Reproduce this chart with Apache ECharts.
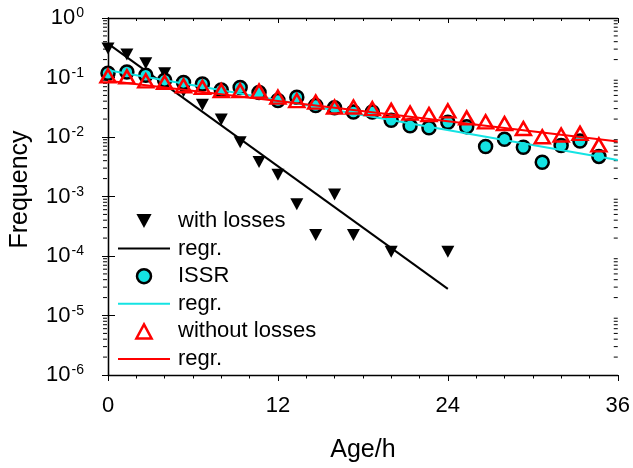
<!DOCTYPE html>
<html><head><meta charset="utf-8">
<script src="https://cdn.jsdelivr.net/npm/echarts@6/dist/echarts.min.js"></script>
<style>html,body{margin:0;padding:0;background:#fff}#c{width:633px;height:468px}</style>
</head><body><div id="c"></div>
<script>
// Age (h) of each sample, every 80 min
const ages = [0, 1.333, 2.667, 4, 5.333, 6.667, 8, 9.333, 10.667, 12, 13.333, 14.667, 16, 17.333,
  18.667, 20, 21.333, 22.667, 24, 25.333, 26.667, 28, 29.333, 30.667, 32, 33.333, 34.667];
// Frequency, "with losses" (null = no point)
const withLosses = [0.306, 0.244, 0.173, 0.118, 0.059, 0.0348, 0.0196, 0.00815, 0.0038, 0.00232,
  0.00074, 0.000226, 0.00108, 0.000226, null, 0.000118, null, null, 0.000118];
// Frequency, ISSR
const issr = [0.118, 0.124, 0.109, 0.0903, 0.0827, 0.0775, 0.0617, 0.0678, 0.0561, 0.041, 0.0467,
  0.0339, 0.031, 0.0263, 0.0263, 0.0191, 0.0154, 0.0143, 0.0177, 0.0149, 0.00692, 0.00914,
  0.00674, 0.00376, 0.0072, 0.00857, 0.00472];
// Frequency, "without losses"
const withoutLosses = [0.1064, 0.1024, 0.0879, 0.0827, 0.0727, 0.0684, 0.060, 0.060, 0.059, 0.0467,
  0.041, 0.0386, 0.0319, 0.0319, 0.0299, 0.028, 0.0253, 0.0238, 0.0274, 0.0209, 0.018, 0.0168,
  0.0139, 0.0101, 0.0108, 0.0115, 0.00736];
// Regression lines (end points)
const regrLossT = [0, 24];   const regrLossF = [0.371, 2.8e-5];
const regrIssrT = [0, 36];   const regrIssrF = [0.132, 0.0041];
const regrNoLossT = [0, 36]; const regrNoLossF = [0.0883, 0.00838];
// Axis ticks
const xLabels = [0, 12, 24, 36];
const yDecades = [-6, -5, -4, -3, -2, -1, 0];
const minorMultipliers = [2, 3, 4, 5, 6, 7, 8, 9];

const FONT = 'Liberation Sans';
const CYAN = '#14e3e3';
const pairs = (xs, ys) => xs.map((x, i) => [x, ys[i]]).filter(p => p[1] != null);
const minorVals = [];
yDecades.slice(0, -1).forEach(e => minorMultipliers.forEach(m => minorVals.push([0, m * Math.pow(10, e)])));

const lineIcon = 'path://M0,0L52,0L52,2L0,2Z';
const chart = echarts.init(document.getElementById('c'), null, {renderer: 'canvas'});
chart.setOption({
  animation: false,
  textStyle: {fontFamily: FONT},
  grid: {left: 106, right: 14.5, top: 18, bottom: 88, containLabel: false},
  legend: {
    orient: 'vertical', left: 113, top: 205, itemWidth: 52, itemHeight: 14, itemGap: 5.6,
    selectedMode: false, symbolKeepAspect: true,
    data: [
      {name: 'with losses', icon: 'path://M0,0L13,0L6.5,12Z', itemStyle: {color: '#000', opacity: 1}},
      {name: 'regr.1', icon: lineIcon, itemStyle: {color: '#000'}},
      {name: 'ISSR', icon: 'circle', itemStyle: {color: CYAN, borderColor: '#000', borderWidth: 2.5, opacity: 1}},
      {name: 'regr.2', icon: lineIcon, itemStyle: {color: CYAN}},
      {name: 'without losses', icon: 'path://M6.5,0L13,12L0,12Z',
       itemStyle: {color: 'rgba(0,0,0,0)', borderColor: '#ff0000', borderWidth: 2.5, opacity: 1}},
      {name: 'regr.3', icon: lineIcon, itemStyle: {color: '#ff0000'}}
    ],
    formatter: n => n.indexOf('regr.') === 0 ? 'regr.' : n,
    textStyle: {fontFamily: FONT, fontSize: 22, color: '#000', lineHeight: 22, padding: [0, 0, 0, 3]}
  },
  xAxis: [{
    type: 'value', min: 0, max: 36, interval: 12, position: 'bottom',
    name: 'Age/h', nameLocation: 'middle', nameGap: 63,
    nameTextStyle: {fontFamily: FONT, fontSize: 25, color: '#000'},
    axisLine: {lineStyle: {color: '#000', width: 1.3}},
    axisTick: {inside: false, length: 6, lineStyle: {color: '#000'}},
    minorTick: {show: true, splitNumber: 6, length: 3.5, lineStyle: {color: '#000'}},
    splitLine: {show: false},
    axisLabel: {fontFamily: FONT, fontSize: 22, color: '#000', margin: 20,
      formatter: v => xLabels.indexOf(v) >= 0 ? String(v) : ''}
  }, {
    type: 'value', min: 0, max: 36, interval: 12, position: 'top',
    axisLine: {lineStyle: {color: '#000', width: 1.3}},
    axisTick: {inside: true, length: 5, lineStyle: {color: '#000'}},
    minorTick: {show: true, splitNumber: 6, length: 3, lineStyle: {color: '#000'}},
    splitLine: {show: false}, axisLabel: {show: false}
  }],
  yAxis: [{
    type: 'log', logBase: 10, min: 1e-6, max: 1, position: 'left', offset: 5,
    name: 'Frequency', nameLocation: 'middle', nameGap: 70,
    nameTextStyle: {fontFamily: FONT, fontSize: 25, color: '#000', padding: [0, 0, 0, 14]},
    axisLine: {show: true, lineStyle: {color: '#000', width: 1.3}},
    axisTick: {show: true, inside: true, length: 7, lineStyle: {color: '#000'}},
    splitLine: {show: false},
    axisLabel: {margin: 19, color: '#000',
      formatter: v => '{b|10}{s|' + Math.round(Math.log10(v)) + '}',
      rich: {b: {fontFamily: FONT, fontSize: 22, color: '#000'},
             s: {fontFamily: FONT, fontSize: 14, color: '#000', padding: [0, 0, 9, 1]}}}
  }, {
    type: 'log', logBase: 10, min: 1e-6, max: 1, position: 'right',
    axisLine: {show: true, lineStyle: {color: '#000', width: 1.3}},
    axisTick: {show: true, inside: true, length: 6, lineStyle: {color: '#000'}},
    splitLine: {show: false}, axisLabel: {show: false}
  }],
  series: [
    {name: 'with losses', type: 'scatter', data: pairs(ages, withLosses),
     symbol: 'triangle', symbolRotate: 180, symbolSize: [13, 12],
     itemStyle: {color: '#000', opacity: 1}, z: 2},
    {name: 'regr.1', type: 'line', data: pairs(regrLossT, regrLossF), symbol: 'none',
     lineStyle: {color: '#000', width: 2}, itemStyle: {color: '#000'}, z: 3},
    {name: 'ISSR', type: 'scatter', data: pairs(ages, issr), symbol: 'circle', symbolSize: 13,
     itemStyle: {color: CYAN, borderColor: '#000', borderWidth: 2.5, opacity: 1}, z: 4},
    {name: 'regr.2', type: 'line', data: pairs(regrIssrT, regrIssrF), symbol: 'none',
     lineStyle: {color: CYAN, width: 2}, itemStyle: {color: CYAN}, z: 5},
    {name: 'without losses', type: 'scatter', data: pairs(ages, withoutLosses),
     symbol: 'triangle', symbolSize: [15, 13],
     itemStyle: {color: 'rgba(0,0,0,0)', borderColor: '#ff0000', borderWidth: 2.5, opacity: 1}, z: 6},
    {name: 'regr.3', type: 'line', data: pairs(regrNoLossT, regrNoLossF), symbol: 'none',
     lineStyle: {color: '#ff0000', width: 2}, itemStyle: {color: '#ff0000'}, z: 7},
    {name: 'minorY', type: 'custom', data: minorVals, silent: true, clip: false, z: 1,
     renderItem: (params, api) => {
       const v = api.value(1);
       const l = api.coord([0, v]);
       const r = api.coord([36, v]);
       return {type: 'group', children: [
         {type: 'line', shape: {x1: l[0] - 5, y1: l[1], x2: l[0] - 1, y2: l[1]}, style: {stroke: '#000', lineWidth: 1}},
         {type: 'line', shape: {x1: r[0] - 4, y1: r[1], x2: r[0], y2: r[1]}, style: {stroke: '#000', lineWidth: 1}}
       ]};
     }}
  ]
});
</script></body></html>
